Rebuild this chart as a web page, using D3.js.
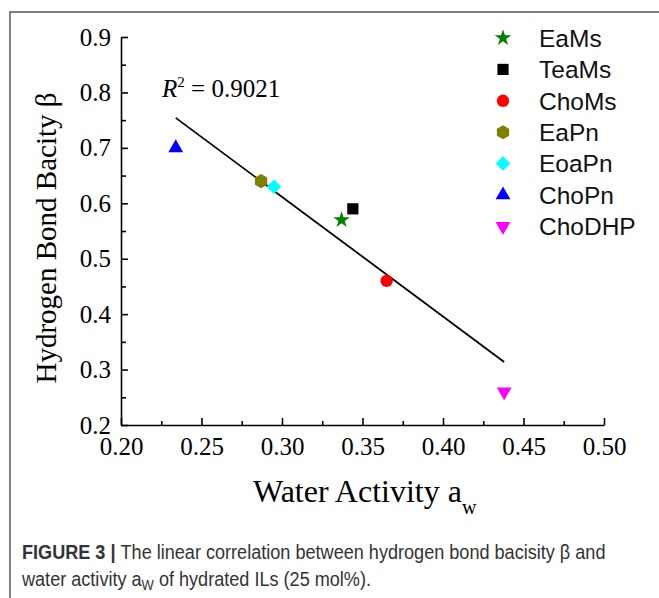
<!DOCTYPE html>
<html>
<head>
<meta charset="utf-8">
<script src="https://cdn.jsdelivr.net/npm/d3@7"></script>
<style>
  body { margin: 0; background: #fff; }
  svg { display: block; }
</style>
</head>
<body>
<div id="chart"></div>
<script>
// data
const names = ["EaMs", "TeaMs", "ChoMs", "EaPn", "EoaPn", "ChoPn", "ChoDHP"];
const waterActivity = [0.337, 0.344, 0.365, 0.287, 0.295, 0.234, 0.438];
const basicity = [0.57, 0.59, 0.46, 0.64, 0.63, 0.70, 0.26];
const colors = ["#008000", "#000000", "#ff0000", "#808000", "#00ffff", "#0000ff", "#ff00ff"];
const shapes = ["star", "square", "circle", "hexagon", "diamond", "triangle", "triangleDown"];

const xTicks = [0.20, 0.25, 0.30, 0.35, 0.40, 0.45, 0.50];
const xMinor = [0.225, 0.275, 0.325, 0.375, 0.425, 0.475];
const yTicks = [0.2, 0.3, 0.4, 0.5, 0.6, 0.7, 0.8, 0.9];
const yMinor = [0.25, 0.35, 0.45, 0.55, 0.65, 0.75, 0.85];
const rSquared = "0.9021";

const width = 659, height = 598;
const serif = "'Liberation Serif', 'Times New Roman', serif";
const sans = "'Liberation Sans', Arial, sans-serif";

const svg = d3.select("#chart")
  .append("svg")
  .attr("width", width)
  .attr("height", height);

// frame of the figure panel
svg.append("path")
  .attr("d", `M10,${height} V12 H${width}`)
  .attr("fill", "none")
  .attr("stroke", "#555")
  .attr("stroke-width", 1.5);

const x = d3.scaleLinear().domain([0.2, 0.5]).range([121, 604]);
const y = d3.scaleLinear().domain([0.2, 0.9]).range([425, 37]);

// axes, ticks pointing inward
svg.append("g")
  .attr("transform", `translate(0,${y(0.2)})`)
  .call(d3.axisBottom(x).tickValues(xTicks).tickFormat(d3.format(".2f"))
    .tickSizeInner(-7).tickSizeOuter(0).tickPadding(12));
svg.append("g")
  .attr("transform", `translate(0,${y(0.2)})`)
  .call(d3.axisBottom(x).tickValues(xMinor).tickFormat("")
    .tickSizeInner(-4).tickSizeOuter(0))
  .select(".domain").remove();

svg.append("g")
  .attr("transform", `translate(${x(0.2)},0)`)
  .call(d3.axisLeft(y).tickValues(yTicks).tickFormat(d3.format(".1f"))
    .tickSizeInner(-7).tickSizeOuter(0).tickPadding(10));
svg.append("g")
  .attr("transform", `translate(${x(0.2)},0)`)
  .call(d3.axisLeft(y).tickValues(yMinor).tickFormat("")
    .tickSizeInner(-5).tickSizeOuter(0))
  .select(".domain").remove();

svg.selectAll(".domain, .tick line")
  .attr("stroke", "#000")
  .attr("stroke-width", 1.6);
svg.selectAll(".tick text")
  .attr("font-family", serif)
  .attr("font-size", 25)
  .attr("fill", "#000");

// axis titles
const xTitle = svg.append("text")
  .attr("x", 253)
  .attr("y", 502)
  .attr("font-family", serif)
  .attr("font-size", 32);
xTitle.append("tspan").text("Water Activity a");
xTitle.append("tspan").attr("dy", 12).attr("font-size", 20).text("w");

svg.append("text")
  .attr("transform", `translate(56,${238}) rotate(-90)`)
  .attr("text-anchor", "middle")
  .attr("font-family", serif)
  .attr("font-size", 29)
  .text("Hydrogen Bond Bacity β");

// linear fit through all points
const points = names.map((n, i) => ({name: n, x: waterActivity[i], y: basicity[i], color: colors[i], shape: shapes[i]}));
const mx = d3.mean(points, d => d.x), my = d3.mean(points, d => d.y);
const slope = d3.sum(points, d => (d.x - mx) * (d.y - my)) / d3.sum(points, d => (d.x - mx) ** 2);
const intercept = my - slope * mx;
const xExt = d3.extent(points, d => d.x);

svg.append("path")
  .datum(xExt)
  .attr("d", d3.line().x(d => x(d)).y(d => y(intercept + slope * d)))
  .attr("stroke", "#000")
  .attr("stroke-width", 1.8)
  .attr("fill", "none");

const rText = svg.append("text")
  .attr("x", 162)
  .attr("y", 97)
  .attr("font-family", serif)
  .attr("font-size", 25);
rText.append("tspan").attr("font-style", "italic").text("R");
rText.append("tspan").attr("dy", -10).attr("font-size", 15).text("2");
rText.append("tspan").attr("dy", 10).text(" = " + rSquared);

// marker shapes
const hexagon = {
  draw(context, size) {
    const r = Math.sqrt(size / (1.5 * Math.sqrt(3)));
    for (let i = 0; i < 6; i++) {
      const a = Math.PI / 3 * i - Math.PI / 2;
      if (i === 0) context.moveTo(r * Math.cos(a), r * Math.sin(a));
      else context.lineTo(r * Math.cos(a), r * Math.sin(a));
    }
    context.closePath();
  }
};
const symbolFor = {
  star: {type: d3.symbolStar, size: 85, rot: 0},
  square: {type: d3.symbolSquare, size: 125, rot: 0},
  circle: {type: d3.symbolCircle, size: 120, rot: 0},
  hexagon: {type: hexagon, size: 130, rot: 0},
  diamond: {type: d3.symbolSquare, size: 105, rot: 45},
  triangle: {type: d3.symbolTriangle, size: 95, rot: 0},
  triangleDown: {type: d3.symbolTriangle, size: 95, rot: 180}
};
const markPath = s => d3.symbol().type(symbolFor[s].type).size(symbolFor[s].size)();

svg.append("g")
  .selectAll("path")
  .data(points)
  .join("path")
  .attr("d", d => markPath(d.shape))
  .attr("transform", d => `translate(${x(d.x)},${y(d.y)}) rotate(${symbolFor[d.shape].rot})`)
  .attr("fill", d => d.color);

// legend
const legend = svg.append("g")
  .selectAll("g")
  .data(points)
  .join("g")
  .attr("transform", (d, i) => `translate(503,${38 + i * 31.4})`);
legend.append("path")
  .attr("d", d => markPath(d.shape))
  .attr("transform", d => `rotate(${symbolFor[d.shape].rot})`)
  .attr("fill", d => d.color);
legend.append("text")
  .attr("x", 36)
  .attr("dy", "0.36em")
  .attr("font-family", sans)
  .attr("font-size", 24.5)
  .attr("fill", "#111")
  .text(d => d.name);

// caption
const caption = svg.append("g")
  .attr("font-family", sans)
  .attr("font-size", 19.5)
  .attr("fill", "#333");
const line1 = caption.append("text").attr("x", 0).attr("y", 0);
line1.append("tspan").attr("font-weight", "bold").text("FIGURE 3 | ");
line1.append("tspan").text("The linear correlation between hydrogen bond bacisity β and");
const line2 = caption.append("text").attr("x", 0).attr("y", 27);
line2.append("tspan").text("water activity a");
line2.append("tspan").attr("dy", 4).attr("font-size", 14).text("W");
line2.append("tspan").attr("dy", -4).text(" of hydrated ILs (25 mol%).");
const squeeze = 584 / line1.node().getComputedTextLength();
caption.attr("transform", `translate(22,559) scale(${squeeze},1)`);
</script>
</body>
</html>
